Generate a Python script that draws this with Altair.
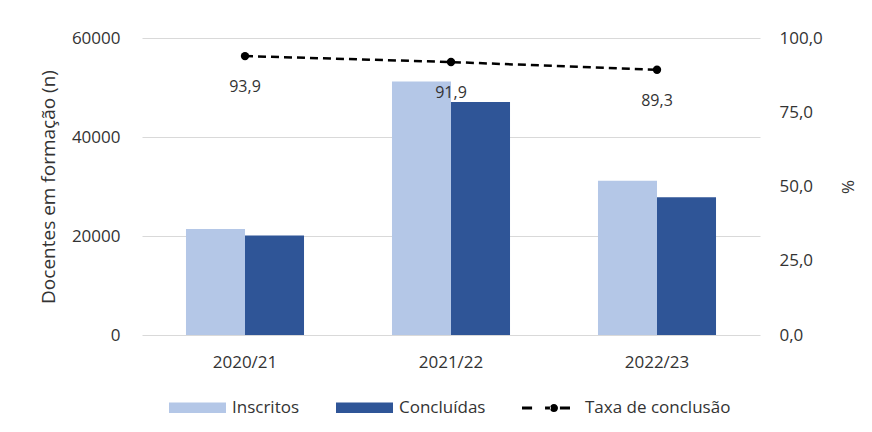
import altair as alt
import pandas as pd

years = ["2020/21", "2021/22", "2022/23"]
inscritos = [21400, 51200, 31150]
concluidas = [20100, 47050, 27820]
taxa = [93.9, 91.9, 89.3]

series_names = ["Inscritos", "Concluídas"]
bar_colors = ["#B4C7E7", "#2F5597"]
line_name = "Taxa de conclusão"

FONT = "Open Sans"
TXT = "#333333"

bars_df = pd.DataFrame({
    "ano": years * 2,
    "serie": ["Inscritos"] * 3 + ["Concluídas"] * 3,
    "valor": inscritos + concluidas,
})
line_df = pd.DataFrame({"ano": years, "taxa": taxa, "serie": [line_name] * 3})

x_enc = alt.X("ano:N", sort=years, title=None,
              scale=alt.Scale(paddingInner=0.427, paddingOuter=0.2135),
              axis=alt.Axis(labelAngle=0, domain=False, ticks=False, tickSize=0,
                            labelPadding=19, labelFontSize=17, labelFont=FONT,
                            labelColor=TXT))

bars = alt.Chart(bars_df).mark_bar().encode(
    x=x_enc,
    xOffset=alt.XOffset("serie:N", sort=series_names, scale=alt.Scale(paddingInner=0)),
    y=alt.Y("valor:Q", scale=alt.Scale(domain=[0, 60000]),
            axis=alt.Axis(values=[0, 20000, 40000, 60000], format="d",
                          title="Docentes em formação (n)", titleFont=FONT,
                          titleFontSize=19, titleFontWeight="normal", titleColor=TXT,
                          titleX=-94, titleY=148.5, titleBaseline="middle",
                          titleAlign="center", titleAngle=270,
                          domain=False, ticks=False, tickSize=0, labelPadding=22,
                          labelFontSize=17, labelFont=FONT, labelColor=TXT,
                          grid=True, gridColor="#D9D9D9", gridWidth=1)),
    color=alt.Color("serie:N", sort=series_names,
                    scale=alt.Scale(domain=series_names, range=bar_colors),
                    legend=alt.Legend(title=None, orient="none", direction="horizontal",
                                      legendX=27, legendY=341,
                                      symbolType="M-1,-0.18H1V0.18H-1Z",
                                      symbolSize=3249, symbolStrokeWidth=0,
                                      labelFontSize=17, labelFont=FONT, labelColor=TXT,
                                      labelOffset=6, columnPadding=36)),
)

y_right = alt.Y("taxa:Q", scale=alt.Scale(domain=[0, 100]),
                axis=alt.Axis(orient="right", values=[0, 25, 50, 75, 100],
                              labelExpr="replace(format(datum.value, '.1f'), '.', ',')",
                              title="%", titleFont=FONT, titleFontSize=17,
                              titleFontWeight="normal", titleColor=TXT,
                              titleX=86, titleY=148.5, titleBaseline="middle",
                              titleAlign="center",
                              domain=False, ticks=False, tickSize=0, labelPadding=19,
                              labelFontSize=17, labelFont=FONT, labelColor=TXT,
                              grid=False))

line = alt.Chart(line_df).mark_line(color="black", strokeWidth=2.5,
                                    strokeDash=[8, 5]).encode(
    x=alt.X("ano:N", sort=years), y=y_right)

points = alt.Chart(line_df).mark_point(filled=True, size=70, opacity=1).encode(
    x=alt.X("ano:N", sort=years),
    y=y_right,
    color=alt.Color("serie:N",
                    scale=alt.Scale(domain=[line_name], range=["black"]),
                    legend=alt.Legend(title=None, orient="none", direction="horizontal",
                                      legendX=380, legendY=346,
                                      symbolType="M-1,-0.06H-0.58V0.06H-1Z M-0.04,-0.06H0.2V0.06H-0.04Z M0.58,-0.06H1V0.06H0.58Z M0.16,0A0.17,0.17 0 1 0 0.5,0A0.17,0.17 0 1 0 0.16,0Z",
                                      symbolSize=2304, symbolStrokeWidth=0,
                                      symbolFillColor="black",
                                      labelFontSize=17, labelFont=FONT, labelColor=TXT,
                                      labelOffset=15)),
)

labels = alt.Chart(line_df).transform_calculate(
    lbl="replace(format(datum.taxa, '.1f'), '.', ',')"
).mark_text(dy=31, fontSize=16, font=FONT, color=TXT).encode(
    x=alt.X("ano:N", sort=years),
    y=y_right,
    text="lbl:N",
)

right = alt.layer(line, points, labels)

chart = alt.layer(bars, right).resolve_scale(
    y="independent", color="independent"
).properties(
    width=618, height=297,
    padding={"left": 134, "top": 30, "right": 104, "bottom": 89},
    autosize=alt.AutoSizeParams(type="none"),
).configure_view(stroke=None)

chart.save("out.html", embed_options={"renderer": "svg", "actions": False})
